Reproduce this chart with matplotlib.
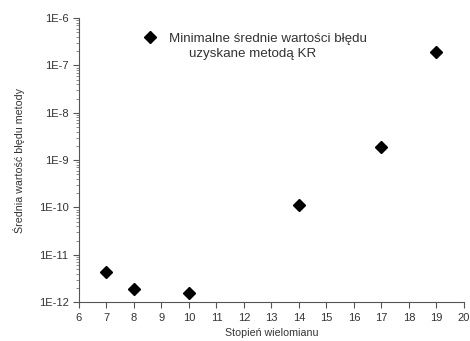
import matplotlib.pyplot as plt
from matplotlib.ticker import FixedLocator, LogLocator, NullFormatter

# dane
stopien = [7, 8, 10, 14, 17, 19]
blad = [4.3e-12, 1.85e-12, 1.55e-12, 1.1e-10, 1.9e-9, 1.9e-7]
x_ticks = list(range(6, 21))
y_ticks = [1e-12, 1e-11, 1e-10, 1e-9, 1e-8, 1e-7, 1e-6]
y_labels = ['1E-12', '1E-11', '1E-10', '1E-9', '1E-8', '1E-7', '1E-6']
etykieta_1 = 'Minimalne średnie wartości błędu'
etykieta_2 = 'uzyskane metodą KR'

plt.rcParams['font.family'] = ['Liberation Sans', 'DejaVu Sans']
tc = '#333333'

fig = plt.figure(figsize=(4.7, 3.41), dpi=100)
ax = fig.add_axes([0.168, 0.114, 0.819, 0.833])

ax.plot(stopien, blad, 'D', color='black', markersize=6, label=etykieta_1, clip_on=False)
ax.set_yscale('log')
ax.set_xlim(6, 20)
ax.set_ylim(1e-12, 1e-6)

ax.xaxis.set_major_locator(FixedLocator(x_ticks))
ax.set_xticklabels([str(t) for t in x_ticks])
ax.yaxis.set_major_locator(FixedLocator(y_ticks))
ax.set_yticklabels(y_labels)
ax.yaxis.set_minor_locator(LogLocator(base=10, subs=range(2, 10)))
ax.yaxis.set_minor_formatter(NullFormatter())

for s in ['top', 'right']:
    ax.spines[s].set_visible(False)
for s in ['left', 'bottom']:
    ax.spines[s].set_color('#555555')
    ax.spines[s].set_linewidth(0.8)

ax.tick_params(axis='both', which='major', direction='out', length=4, width=0.8,
               colors='#555555', labelcolor=tc, labelsize=8)
ax.tick_params(axis='y', which='minor', direction='out', length=2, width=0.6, colors='#777777')

ax.set_xlabel('Stopień wielomianu', fontsize=7.7, color=tc, labelpad=4)
ax.set_ylabel('Średnia wartość błędu metody', fontsize=7.7, color=tc, labelpad=10)

leg = ax.legend(loc='upper left', bbox_to_anchor=(0.168, 0.95), frameon=False,
                fontsize=9.6, handletextpad=0.9, handlelength=1.0, numpoints=1,
                borderpad=0, borderaxespad=0)
for t in leg.get_texts():
    t.set_color(tc)
ax.text(0.287, 0.873, etykieta_2, transform=ax.transAxes, fontsize=9.6,
        color=tc, ha='left', va='center')

fig.savefig('out.png', dpi=100)
